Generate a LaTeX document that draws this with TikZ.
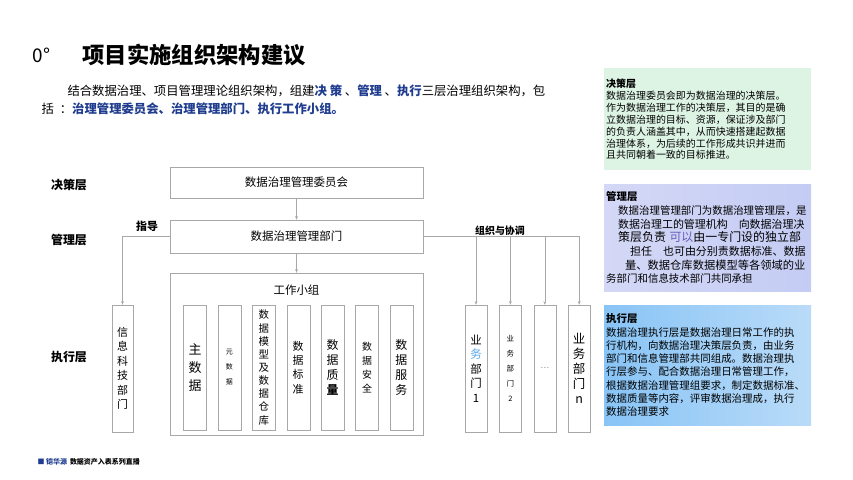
\documentclass[tikz,border=0pt]{standalone}
\usepackage{fontspec}
\setmainfont{Noto Sans CJK SC}
\usetikzlibrary{arrows.meta,positioning}
\definecolor{linegray}{HTML}{A8A8A8}
\definecolor{navy}{HTML}{1F3C8F}
\definecolor{mintbg}{HTML}{DDF3E4}
\definecolor{lavleft}{HTML}{D4D8F6}
\definecolor{lavright}{HTML}{C4CCF4}
\definecolor{skyleft}{HTML}{88C4F6}
\definecolor{skyright}{HTML}{BADBF8}
\definecolor{paleblue}{HTML}{5AA8E8}
\definecolor{violet}{HTML}{6A5CB8}

\begin{document}
\begin{tikzpicture}[
  x=1bp, y=-1bp,
  layer/.style={
    font=\bfseries\fontsize{12}{14}\selectfont
  },
  wide/.style={
    rectangle,
    draw=linegray,
    fill=white,
    minimum width=253bp,
    minimum height=31bp,
    font=\fontsize{11.5}{14}\selectfont
  },
  colbox/.style={
    rectangle,
    draw=linegray,
    fill=white,
    minimum width=23bp,
    minimum height=125bp,
    inner sep=0pt,
    align=center,
    font=\fontsize{11}{14.5}\selectfont
  },
  deptbox/.style={
    colbox,
    minimum width=22bp,
    minimum height=127bp
  },
  panel/.style={
    rectangle,
    anchor=north west,
    text width=203bp,
    inner sep=2bp,
    align=left
  },
  conn/.style={
    draw=linegray,
    -{Stealth[length=1.3mm]}
  }
]
\useasboundingbox (0,0) rectangle (853,480);

% Title and intro
\node[anchor=west, font=\fontsize{19}{23}\selectfont] (num) at (29,55) {0°};
\node[anchor=west, font=\bfseries\fontsize{22.4}{26}\selectfont] (title) at (79,55) {项目实施组织架构建议};
\node[anchor=west, font=\fontsize{12.4}{14}\selectfont] (intro1) at (64,91)
  {结合数据治理、项目管理理论组织架构，组建{\bfseries\color{navy}决 策} 、{\bfseries\color{navy}管理} 、{\bfseries\color{navy}执行}三层治理组织架构，包};
\node[anchor=west, font=\fontsize{12.4}{14}\selectfont] (intro2) at (38,109)
  {括\hspace{6bp}：{\bfseries\color{navy}治理管理委员会、治理管理部门、执行工作小组。}};

% Layer labels
\node[layer] (decisionlabel) at (69,185) {决策层};
\node[layer] (managelabel) at (69,240) {管理层};
\node[layer] (executelabel) at (69,357) {执行层};

% Main chain
\node[wide] (council) at (296.5,182.5) {数据治理管理委员会};
\node[wide, minimum height=33bp] (dept) at (296.5,236.5) {数据治理管理部门};
\node[wide, minimum height=162bp] (group) at (296.5,354) {};
\node[below=9bp of group.north, font=\fontsize{11.5}{14}\selectfont] (grouptitle) {工作小组};

% Working group columns
\node[colbox, font=\fontsize{13}{18}\selectfont] (master) at (195,367.5) {主\\数\\据};
\node[colbox, right=11bp of master, font=\fontsize{7}{15}\selectfont] (meta) {元\\数\\据};
\node[colbox, right=11bp of meta, font=\fontsize{10.5}{13.2}\selectfont] (model) {数\\据\\模\\型\\及\\数\\据\\仓\\库};
\node[colbox, right=11bp of model] (standard) {数\\据\\标\\准};
\node[colbox, right=11bp of standard, font=\fontsize{12}{15}\selectfont] (quality) {数\\据\\质\\\textbf{量}};
\node[colbox, right=11bp of quality, font=\fontsize{10}{14}\selectfont] (security) {数\\据\\安\\全};
\node[colbox, right=11bp of security, font=\fontsize{12}{15}\selectfont] (service) {数\\据\\服\\务};

% IT and business departments
\node[deptbox, minimum width=21bp] (itdept) at (122.5,368.5) {信\\息\\科\\技\\部\\门};
\node[deptbox, font=\fontsize{11.5}{14.5}\selectfont] (biz1) at (476,368.5) {业\\{\color{paleblue}务}\\部\\门\\1};
\node[deptbox, right=12bp of biz1, font=\fontsize{7.5}{15}\selectfont] (biz2) {业\\务\\部\\门\\2};
\node[deptbox, right=12bp of biz2, font=\fontsize{8}{10}\selectfont, text=gray] (biz3) {…};
\node[deptbox, right=12bp of biz3, font=\fontsize{12.5}{15}\selectfont] (bizn) {业\\务\\部\\门\\n};

% Connector labels
\node[font=\bfseries\fontsize{11}{13}\selectfont] (guide) at (147,226) {指导};
\node[font=\bfseries\fontsize{10}{12}\selectfont] (coordinate) at (500,231) {组织与协调};

% Connections
\draw[conn] (council) -- (dept);
\draw[conn] (dept) -- (group);
\draw[conn] (dept.west) -| (itdept);
\draw[draw=linegray] (dept.east) -- (bizn.north |- dept.east);
\draw[conn] (biz1.north |- dept.east) -- (biz1.north);
\draw[conn] (biz2.north |- dept.east) -- (biz2.north);
\draw[conn] (biz3.north |- dept.east) -- (biz3.north);
\draw[conn] (bizn.north |- dept.east) -- (bizn.north);

% Notes on the right
\node[panel, fill=mintbg, minimum height=102bp, font=\fontsize{10}{12}\selectfont] (decisionnote) at (604,68)
  {\textbf{决策层}\\数据治理委员会即为数据治理的决策层。\\作为数据治理工作的决策层，其目的是确\\立数据治理的目标、资源，保证涉及部门\\的负责人涵盖其中，从而快速搭建起数据\\治理体系，为后续的工作形成共识并进而\\且共同朝着一致的目标推进。};
\node[panel, left color=lavleft, right color=lavright, minimum height=107bp, font=\fontsize{10.5}{13.7}\selectfont] (managenote) at (604,184)
  {\textbf{管理层}\\
   \hspace*{12bp}数据治理管理部门为数据治理管理层，是\\
   \hspace*{12bp}{\fontsize{11}{13.7}\selectfont 数据治理工的管理机构　向数据治理决}\\
   \hspace*{12bp}{\fontsize{12}{13.7}\selectfont 策层负责 {\color{violet}可以}由一专门设的独立部}\\
   \hspace*{24bp}{\fontsize{11}{13.7}\selectfont 担任　也可由分别责数据标准、数据}\\
   \hspace*{19bp}{\fontsize{11.3}{13.7}\selectfont 量、数据仓库数据模型等各领域的业}\\
   务部门和信息技术部门共同承担};
\node[panel, left color=skyleft, right color=skyright, minimum height=120bp, font=\fontsize{10.5}{13.3}\selectfont] (executenote) at (604,305)
  {\textbf{执行层}\\数据治理执行层是数据治理日常工作的执\\行机构，向数据治理决策层负责，由业务\\部门和信息管理部共同组成。数据治理执\\行层参与、配合数据治理日常管理工作，\\根据数据治理管理组要求，制定数据标准、\\数据质量等内容，评审数据治理成，执行\\数据治理要求};

% Footer
\node[anchor=west, font=\bfseries\fontsize{7}{9}\selectfont] (footer) at (34,462)
  {{\color{navy}■ 铠华源}\hspace{3bp}数据资产入表系列直播};
\end{tikzpicture}
\end{document}
